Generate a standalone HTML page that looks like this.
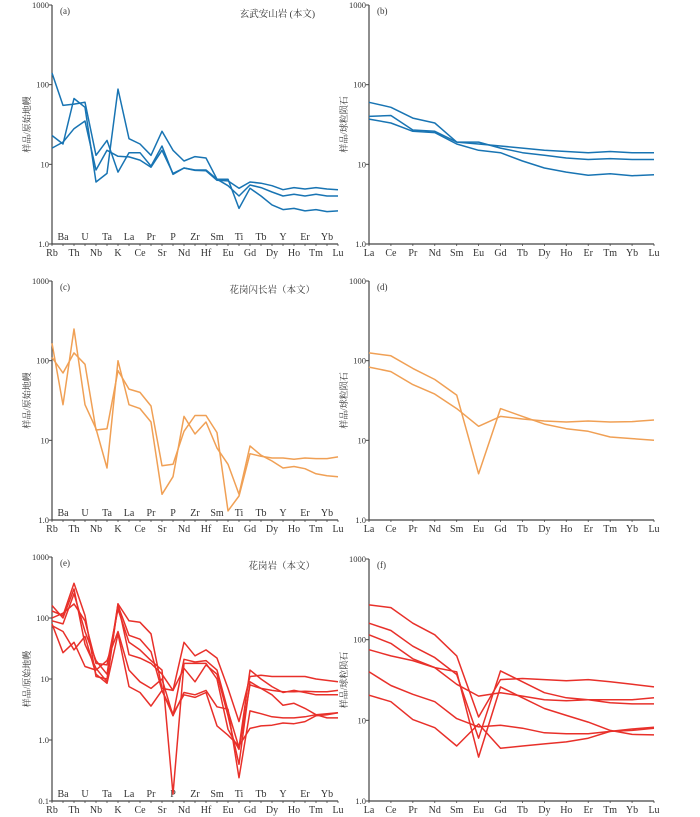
<!DOCTYPE html>
<html><head><meta charset="utf-8">
<style>
body{margin:0;background:#fff;width:700px;height:817px;overflow:hidden}
svg{display:block}
text{font-family:"Liberation Serif","Noto Serif CJK SC",serif;fill:#333}
</style></head>
<body>
<svg id="fig" width="700" height="817" viewBox="0 0 700 817"></svg>
<script>
const spiderElems=["Rb","Ba","Th","U","Nb","Ta","K","La","Ce","Pr","Sr","P","Nd","Zr","Hf","Sm","Eu","Ti","Gd","Tb","Dy","Y","Ho","Er","Tm","Yb","Lu"];
const reeElems=["La","Ce","Pr","Nd","Sm","Eu","Gd","Tb","Dy","Ho","Er","Tm","Yb","Lu"];
const aS1=[140,55,57,60,13,20,8,14,14,9.5,17,7.5,9,8.5,8.5,6.5,6.5,2.8,5,4,3.1,2.7,2.8,2.6,2.7,2.55,2.6];
const aS2=[23,18,67,52,6,7.7,88,21,18,13,26,15,11,12.5,12,6.5,5.4,4,5.5,5.1,4.5,4,4.2,4,4.2,4,4];
const aS3=[16,19,28,35,8.5,15,12.6,12.4,11.3,9.2,15,7.7,9,8.4,8.3,6.3,6.2,5,6,5.8,5.4,4.8,5.1,4.9,5.1,4.9,4.8];
const bS1=[60,52,38,33,19,18,17,16,15,14.5,14,14.5,14,14];
const bS2=[40,41,27,26,19,19,16,14,13,12,11.5,11.8,11.5,11.5];
const bS3=[37,33,26,25,18,15,14,11,9,8,7.3,7.6,7.2,7.4];
const cS1=[110,70,125,90,13.5,14,75,44,40,27,4.8,5,13,20.5,20.5,12.5,1.3,2,6.8,6.3,6,6,5.8,6,5.9,5.9,6.2];
const cS2=[165,28,250,28,14,4.5,100,28,25,17,2.1,3.5,20,12,17,8,5,2.1,8.5,6.5,5.5,4.5,4.7,4.4,3.8,3.6,3.5];
const dS1=[125,115,80,58,37,3.8,25,20,16,14,13,11,10.5,10];
const dS2=[83,73,50,38,25,15,20,18.5,17.5,17,17.5,17,17.2,18];
const eS1=[160,100,300,37,15,9,170,90,85,55,7,6.5,40,24,30,22,7,2,11,11.5,11,11,11,11,10,9.5,9];
const eS2=[130,110,370,110,11,10,160,52,45,28,6.5,2.5,21,19,20,14,3,0.75,14,10,7.5,6,6.5,6,5.5,5.5,5.5];
const eS3=[100,120,170,90,18,17,140,40,30,20,14,0.13,18,18,18,10,1.5,0.7,8,7,6.5,6.2,6.2,6.3,6.2,6.2,6.5];
const eS4=[90,80,250,60,20,12,170,25,22,18,12,6.5,15,9,17,12,2.5,0.4,9,7,5.5,3.7,4,3.3,2.6,2.3,2.3];
const eS5=[80,27,40,16,14,20,60,14,9,7,10,2.5,6,5.5,6.5,3.5,3.2,0.24,3,2.7,2.4,2.3,2.3,2.4,2.6,2.7,2.8];
const eS6=[75,60,30,50,12,8.5,55,7.5,6,3.6,6.5,2.7,5.5,5,6,1.7,1.2,0.8,1.55,1.7,1.75,1.9,1.85,2,2.5,2.6,2.8];
const fS1=[270,250,160,115,63,11,32,33,32,31,32,30,28,26];
const fS2=[160,130,83,60,37,6,41,30,22,19,18,16.5,16,16];
const fS3=[115,90,58,45,28,20,22,20,18,17.5,18,18,18,19];
const fS4=[75,63,55,45,40,3.5,26,19,14,11.5,9.5,7.5,6.7,6.6];
const fS5=[40,27,21,17,10.5,8.3,8.7,8,7,6.8,6.8,7.3,7.8,8.2];
const fS6=[20.5,17,10.2,8.1,4.8,9,4.5,4.8,5.1,5.4,6,7.3,7.5,8];

const NS="http://www.w3.org/2000/svg";
const svg=document.getElementById('fig');
function mk(tag,attrs,parent){const e=document.createElementNS(NS,tag);for(const k in attrs)e.setAttribute(k,attrs[k]);(parent||svg).appendChild(e);return e;}

function panel(id,cfg){
  const g=mk('g',{});
  
  
  const {x0,x1,yTop,yBot,minExp,maxExp,elems,series,color,label,title,ytitle,twoRow}=cfg;
  const xs=i=>x0+(x1-x0)*i/(elems.length-1);
  const ys=v=>yBot-(Math.log10(v)-minExp)/(maxExp-minExp)*(yBot-yTop);
  // axes
  const ax=mk('path',{d:`M${x0},${yTop} L${x0},${yBot} L${x1},${yBot}`,fill:'none',stroke:'#444','stroke-width':1.2},g);
  
  
  for(let e=minExp;e<=maxExp;e++){
    const y=ys(Math.pow(10,e));
    mk('line',{x1:x0-3,x2:x0,y1:y,y2:y,stroke:'#444','stroke-width':1},g);
    const t=mk('text',{x:x0-3,y:y+3,'font-size':8.5,'text-anchor':'end'},g);
    t.textContent=e<0?'0.1':(e===0?'1.0':String(Math.pow(10,e)));
    
    
  }
  elems.forEach((el,i)=>{
    const x=xs(i);
    mk('line',{x1:x,x2:x,y1:yBot,y2:yBot+2,stroke:'#444','stroke-width':0.8},g);
    const low=!twoRow||i%2===0;
    const t=mk('text',{x:x,y:low?yBot+12:yBot-4,'font-size':10,'text-anchor':'middle'},g);
    t.textContent=el;
    
    
  });
  const lt=mk('text',{x:x0+8,y:yTop+9,'font-size':9},g);
  lt.textContent=label;
  
  
  if(title){
    const tt=mk('text',{x:x1-23,y:yTop+12,'font-size':9.5,'text-anchor':'end'},g);
    tt.textContent=title;
    
    
  }
  const cy=(yTop+yBot)/2, cx=x0-22;
  const yt=mk('text',{x:cx,y:cy,'font-size':9,'text-anchor':'middle',transform:`rotate(-90 ${cx} ${cy})`,fill:'#666'},g);
  yt.textContent=ytitle;
  
  
  series.forEach((s,k)=>{
    const d=s.map((v,i)=>(i?'L':'M')+xs(i).toFixed(1)+','+ys(v).toFixed(1)).join(' ');
    const p=mk('path',{d:d,fill:'none',stroke:color,'stroke-width':1.5,'stroke-linejoin':'round'},g);
    
    
  });
}
const yS="样品/原始地幔", yR="样品/球粒陨石";
const blue="#1874b3", orange="#f0a055", red="#e8302a";
panel('a',{x0:52,x1:338,yTop:5,yBot:244,minExp:0,maxExp:3,elems:spiderElems,series:[aS1,aS2,aS3],color:blue,label:'(a)',title:'玄武安山岩 (本文)',ytitle:yS,twoRow:true});
panel('b',{x0:369,x1:654,yTop:5,yBot:244,minExp:0,maxExp:3,elems:reeElems,series:[bS1,bS2,bS3],color:blue,label:'(b)',title:'',ytitle:yR,twoRow:false});
panel('c',{x0:52,x1:338,yTop:281,yBot:520,minExp:0,maxExp:3,elems:spiderElems,series:[cS1,cS2],color:orange,label:'(c)',title:'花岗闪长岩（本文）',ytitle:yS,twoRow:true});
panel('d',{x0:369,x1:654,yTop:281,yBot:520,minExp:0,maxExp:3,elems:reeElems,series:[dS1,dS2],color:orange,label:'(d)',title:'',ytitle:yR,twoRow:false});
panel('e',{x0:52,x1:338,yTop:557,yBot:801,minExp:-1,maxExp:3,elems:spiderElems,series:[eS1,eS2,eS3,eS4,eS5,eS6],color:red,label:'(e)',title:'花岗岩（本文）',ytitle:yS,twoRow:true});
panel('f',{x0:369,x1:654,yTop:559,yBot:801,minExp:0,maxExp:3,elems:reeElems,series:[fS1,fS2,fS3,fS4,fS5,fS6],color:red,label:'(f)',title:'',ytitle:yR,twoRow:false});
</script>
</body></html>
